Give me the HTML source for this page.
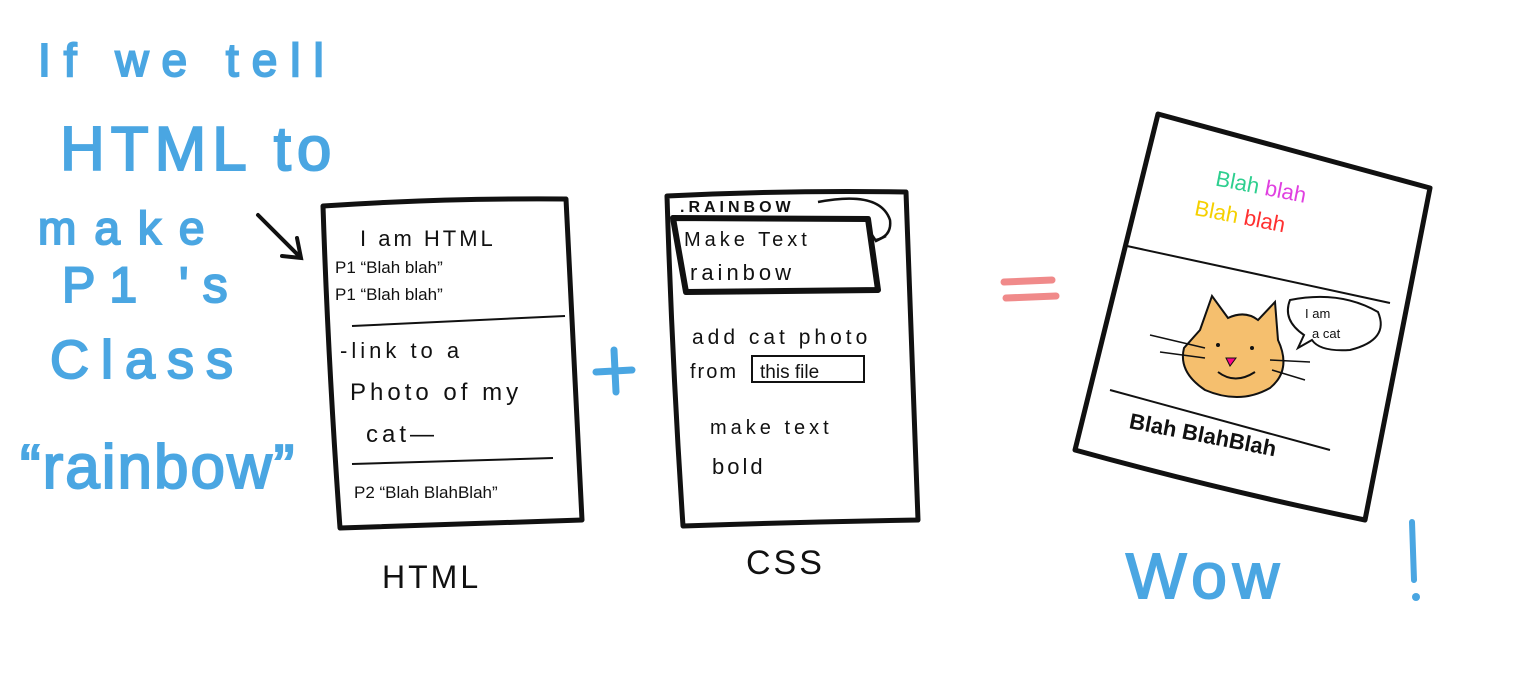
<!DOCTYPE html>
<html><head><meta charset="utf-8"><style>
html,body{margin:0;padding:0;background:#fff;width:1536px;height:700px;overflow:hidden}
svg{display:block}
.b{fill:#4aa6e2;stroke:#4aa6e2;stroke-width:2;font-family:"Liberation Sans",sans-serif}
.k{fill:#111;font-family:"Liberation Sans",sans-serif}
</style></head><body>
<svg width="1536" height="700" viewBox="0 0 1536 700" xmlns="http://www.w3.org/2000/svg">
<rect width="1536" height="700" fill="#fff"/>
<text class="b" x="38" y="76" font-size="46" letter-spacing="13">If we tell</text>
<text class="b" x="60" y="170" font-size="62" letter-spacing="6">HTML to</text>
<text class="b" x="38" y="244" font-size="46" letter-spacing="18">make</text>
<text class="b" x="62" y="302" font-size="50" letter-spacing="14">P1 's</text>
<text class="b" x="50" y="378" font-size="54" letter-spacing="12">Class</text>
<text class="b" x="20" y="488" font-size="62" letter-spacing="2">“rainbow”</text>
<path d="M258 215 L300 257 M282 256 L301 258 L297 238" stroke="#111" stroke-width="4" fill="none" stroke-linecap="round"/>
<path d="M323 206 Q440 198 566 199 Q574 360 582 520 Q460 524 340 528 Q328 360 323 206Z" fill="#fff" stroke="#111" stroke-width="5" stroke-linejoin="round"/>
<text class="k" x="360" y="246" font-size="22" letter-spacing="3">I am HTML</text>
<text class="k" x="335" y="273" font-size="17">P1 “Blah blah”</text>
<text class="k" x="335" y="300" font-size="17">P1 “Blah blah”</text>
<line x1="352" y1="326" x2="565" y2="316" stroke="#111" stroke-width="2"/>
<text class="k" x="340" y="358" font-size="22" letter-spacing="4">-link to a</text>
<text class="k" x="350" y="400" font-size="24" letter-spacing="4">Photo of my</text>
<text class="k" x="366" y="442" font-size="24" letter-spacing="4">cat—</text>
<line x1="352" y1="464" x2="553" y2="458" stroke="#111" stroke-width="2"/>
<text class="k" x="354" y="498" font-size="17">P2 “Blah BlahBlah”</text>
<text class="k" x="382" y="588" font-size="32" letter-spacing="3">HTML</text>
<path d="M614 350 L616 392 M596 372 L632 370" stroke="#4aa6e2" stroke-width="7" stroke-linecap="round"/>
<path d="M667 196 Q790 190 906 192 Q912 360 918 520 Q800 522 683 526 Q672 360 667 196Z" fill="#fff" stroke="#111" stroke-width="5" stroke-linejoin="round"/>
<text class="k" x="680" y="212" font-size="16" font-weight="bold" letter-spacing="4">.RAINBOW</text>
<path d="M818 202 Q880 190 890 220 Q892 236 876 240 M870 232 L876 241 L886 236" stroke="#111" stroke-width="2.5" fill="none"/>
<path d="M673 218 L868 219 L878 290 L686 292 Z" fill="none" stroke="#111" stroke-width="6" stroke-linejoin="round"/>
<text class="k" x="684" y="246" font-size="20" letter-spacing="4">Make  Text</text>
<text class="k" x="690" y="280" font-size="22" letter-spacing="4">rainbow</text>
<text class="k" x="692" y="344" font-size="21" letter-spacing="4">add cat photo</text>
<text class="k" x="690" y="378" font-size="20" letter-spacing="2">from</text>
<rect x="752" y="356" width="112" height="26" fill="none" stroke="#111" stroke-width="2"/>
<text class="k" x="760" y="378" font-size="19">this file</text>
<text class="k" x="710" y="434" font-size="20" letter-spacing="4" fill="#333">make text</text>
<text class="k" x="712" y="474" font-size="22" letter-spacing="3">bold</text>
<text class="k" x="746" y="574" font-size="34" letter-spacing="3">CSS</text>
<path d="M1004 282 L1052 280 M1006 298 L1056 296" stroke="#f08a8a" stroke-width="7" stroke-linecap="round"/>
<path d="M1158 114 Q1290 150 1430 188 Q1398 355 1365 520 Q1220 490 1075 450 Q1116 282 1158 114Z" fill="#fff" stroke="#111" stroke-width="5" stroke-linejoin="round"/>
<g transform="rotate(11 1260 240)">
<text x="1205" y="195" font-size="22" font-family="Liberation Sans,sans-serif"><tspan fill="#2ecf8f">Blah</tspan> <tspan fill="#e040e0">blah</tspan></text>
<text x="1190" y="228" font-size="22" font-family="Liberation Sans,sans-serif"><tspan fill="#f5d000">Blah</tspan> <tspan fill="#ff3030">blah</tspan></text>
</g>
<line x1="1127" y1="246" x2="1390" y2="303" stroke="#111" stroke-width="2"/>
<path d="M1200 330 L1212 296 L1228 318 Q1245 310 1258 320 L1275 302 L1278 340 Q1292 370 1270 388 Q1240 405 1205 390 Q1178 372 1184 348 Z" fill="#f5bf6e" stroke="#111" stroke-width="2"/>
<circle cx="1218" cy="345" r="2" fill="#111"/><circle cx="1252" cy="348" r="2" fill="#111"/>
<path d="M1226 358 L1236 358 L1230 366 Z" fill="#f08" stroke="#111"/>
<path d="M1218 372 Q1235 385 1255 372" stroke="#111" fill="none" stroke-width="2"/>
<path d="M1150 335 L1205 348 M1160 352 L1205 358 M1270 360 L1310 362 M1272 370 L1305 380" stroke="#111" stroke-width="1.5"/>
<path d="M1290 300 Q1340 290 1378 312 Q1390 340 1350 350 Q1320 352 1312 340 L1298 348 L1304 335 Q1282 320 1290 300Z" fill="#fff" stroke="#111" stroke-width="2"/>
<text class="k" x="1305" y="318" font-size="13">I am</text>
<text class="k" x="1312" y="338" font-size="13">a cat</text>
<line x1="1110" y1="390" x2="1330" y2="450" stroke="#111" stroke-width="2"/>
<g transform="rotate(11 1230 460)"><text class="k" x="1124" y="448" font-size="22" font-weight="bold">Blah BlahBlah</text></g>
<text class="b" x="1126" y="598" font-size="64" letter-spacing="6">Wow</text>
<path d="M1412 522 L1414 580" stroke="#4aa6e2" stroke-width="6" stroke-linecap="round"/>
<circle cx="1416" cy="597" r="4" fill="#4aa6e2"/>
</svg>
</body></html>
